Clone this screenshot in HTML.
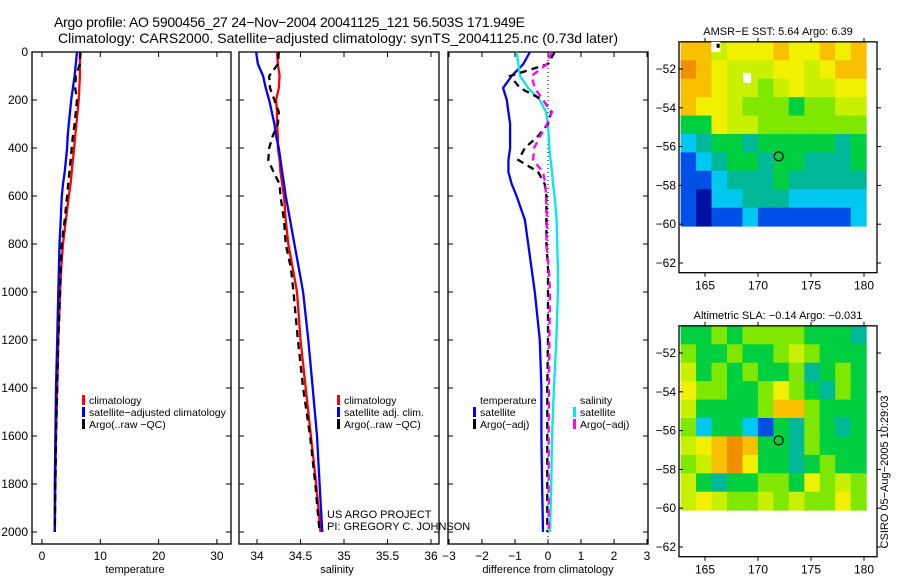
<!DOCTYPE html>
<html><head><meta charset="utf-8"><style>
html,body{margin:0;padding:0;background:#fff;}
svg{display:block;font-family:"Liberation Sans",sans-serif;}
</style></head><body>
<svg id="c" width="900" height="580" xmlns="http://www.w3.org/2000/svg">
<text x="54" y="27" font-size="14" textLength="471">Argo profile: AO 5900456_27 24−Nov−2004 20041125_121 56.503S 171.949E</text>
<text x="58" y="43" font-size="14" textLength="560">Climatology: CARS2000. Satellite−adjusted climatology: synTS_20041125.nc (0.73d later)</text>
</svg>
<script>
// ---- data ----
const depthTicks=[0,200,400,600,800,1000,1200,1400,1600,1800,2000];
const depths=[0,50,100,150,200,250,300,350,400,450,500,550,600,700,800,900,1000,1200,1400,1600,1800,2000];
const tempClim=[6.5,6.5,6.5,6.4,6.3,6.1,5.9,5.7,5.5,5.3,5.1,4.9,4.6,4.1,3.6,3.3,3.1,2.8,2.6,2.4,2.3,2.2];
const tempSat=[6.0,5.8,5.6,5.3,5.0,4.8,4.6,4.4,4.3,4.1,3.9,3.6,3.4,3.2,3.0,2.9,2.8,2.6,2.4,2.3,2.2,2.2];
const tempArgo=[6.6,6.5,5.8,5.7,6.0,5.8,5.6,5.3,5.1,4.9,4.7,4.5,4.3,3.9,3.4,3.2,3.1,2.8,2.6,2.4,2.3,2.2];
const salClim=[34.23,34.24,34.26,34.25,34.22,34.23,34.23,34.24,34.24,34.26,34.27,34.29,34.31,34.33,34.36,34.41,34.46,34.5,34.56,34.62,34.68,34.73];
const salSat=[33.99,34.01,34.07,34.10,34.14,34.17,34.2,34.22,34.25,34.27,34.29,34.31,34.33,34.38,34.43,34.48,34.53,34.59,34.64,34.69,34.72,34.75];
const salArgo=[34.25,34.24,34.14,34.15,34.2,34.25,34.24,34.18,34.14,34.13,34.19,34.26,34.27,34.31,34.33,34.39,34.42,34.47,34.53,34.61,34.67,34.72];
const dTempSat=[-0.55,-0.75,-1.1,-1.36,-1.25,-1.2,-1.15,-1.15,-1.15,-1.2,-1.2,-1.1,-0.95,-0.7,-0.6,-0.5,-0.4,-0.25,-0.2,-0.2,-0.18,-0.15];
const dSalSat=[-0.95,-0.9,-0.85,-0.6,-0.25,-0.06,0,0.02,0.04,0.08,0.12,0.15,0.2,0.26,0.28,0.3,0.3,0.25,0.18,0.12,0.1,0.06];
const dTempArgo=[0.2,0,-1.15,-0.85,-0.15,0.1,0,-0.3,-0.7,-0.9,-0.3,-0.1,-0.05,-0.05,-0.05,0,0,0,-0.02,-0.02,-0.02,-0.02];
const dSalArgo=[0.1,-0.03,-0.5,-0.4,-0.15,0.12,-0.03,-0.24,-0.42,-0.45,-0.15,-0.08,-0.06,-0.03,-0.05,0.02,0.06,0.04,0.03,0.02,0.02,0.02];
const tempTicks=[0,10,20,30];
const salTicks=[34,34.5,35,35.5,36];
const salTickLabels=["34","34.5","35","35.5","36"];
const diffTicks=[-3,-2,-1,0,1,2,3];
const lonTicks=[165,170,175,180];
const latTicks=[-52,-54,-56,-58,-60,-62];
const sstGrid=[
[8,8,6,7,7,7,8,7,7,8,7,8],
[9,8,7,6,6,6,7,7,6,7,8,8],
[8,8,7,6,6,5,6,7,6,6,7,7],
[8,7,7,6,5,5,5,4,5,5,6,6],
[4,4,7,6,6,5,5,5,5,5,5,5],
[2,3,4,4,3,4,4,4,4,4,3,4],
[1,2,3,4,4,3,4,4,3,3,3,4],
[1,1,2,3,3,3,4,3,3,3,3,3],
[1,0,2,2,3,3,3,2,2,2,2,2],
[1,0,1,1,2,1,1,1,1,1,1,2]];
const slaGrid=[
[4,4,5,4,5,5,5,5,4,4,4,3],
[5,4,4,5,4,4,5,6,5,4,4,4],
[6,4,5,4,5,4,4,5,3,4,5,4],
[7,5,5,4,4,5,7,5,4,3,5,4],
[6,4,4,4,4,5,8,8,5,4,4,4],
[5,2,4,4,2,1,4,3,5,4,3,4],
[6,7,8,9,8,4,4,3,5,4,4,4],
[5,6,8,9,7,4,4,3,4,5,4,4],
[6,4,3,4,4,5,5,4,7,5,6,5],
[6,7,6,5,5,6,5,6,5,5,7,5]];
const argoLon=171.949, argoLat=-56.503;
// ---- helpers ----
const NS="http://www.w3.org/2000/svg", svg=document.getElementById('c');
function mk(tag,at,parent){const e=document.createElementNS(NS,tag);for(const k in at)e.setAttribute(k,at[k]);(parent||svg).appendChild(e);return e;}
const dy=d=>52+0.24*d;
const tx=v=>42+5.83*v, sx=v=>257+87*(v-34), dx=v=>548+33*v;
const TOP=52,BOT=544;
function panel(x0,x1,name,xt,xf,labels,title,tcx){
  const g=mk('g',{});
  
  
  const r=mk('rect',{x:x0,y:TOP,width:x1-x0,height:BOT-TOP,fill:'none',stroke:'#000','stroke-width':1.3},g);
  
  
  depthTicks.forEach(d=>{mk('line',{x1:x0,x2:x0+5,y1:dy(d),y2:dy(d),stroke:'#000'},g);mk('line',{x1:x1,x2:x1-5,y1:dy(d),y2:dy(d),stroke:'#000'},g);});
  xt.forEach((v,i)=>{const x=xf(v);mk('line',{x1:x,x2:x,y1:TOP,y2:TOP+5,stroke:'#000'},g);mk('line',{x1:x,x2:x,y1:BOT,y2:BOT-5,stroke:'#000'},g);
    const t=mk('text',{x:x,y:560,'font-size':12,'text-anchor':'middle'},g);t.textContent=labels[i];
    
    });
  const tt=mk('text',{x:tcx,y:573,'font-size':11,'text-anchor':'middle'},g);tt.textContent=title;
  
  
  return g;
}
function line(vals,xf,color,dash,name,w){
  const p=vals.map((v,i)=>xf(v).toFixed(1)+','+dy(depths[i]).toFixed(1)).join(' ');
  const a={points:p,fill:'none',stroke:color,'stroke-width':w||2.3};
  if(dash)a['stroke-dasharray']=dash;
  const e=mk('polyline',a);
  
  
}
depthTicks.forEach(d=>{const t=mk('text',{x:28,y:dy(d)+4,'font-size':12,'text-anchor':'end'});t.textContent=d;
  
  });
panel(32,231,'temperature-panel',tempTicks,tx,tempTicks.map(String),'temperature',135);
panel(239,439,'salinity-panel',salTicks,sx,salTickLabels,'salinity',337);
panel(448,648,'difference-panel',diffTicks,dx,diffTicks.map(v=>v<0?'−'+(-v):String(v)),'difference from climatology',548);
const zl=mk('line',{x1:dx(0),x2:dx(0),y1:TOP,y2:BOT,stroke:'#000','stroke-dasharray':'1,3'});


line(tempClim,tx,'#ff0000',null,'temp-climatology-line');
line(tempSat,tx,'#0000ff',null,'temp-satellite-line');
line(tempArgo,tx,'#000',"7,5",'temp-argo-line');
line(salClim,sx,'#ff0000',null,'sal-climatology-line');
line(salSat,sx,'#0000ff',null,'sal-satellite-line');
line(salArgo,sx,'#000',"7,5",'sal-argo-line');
line(dTempSat,dx,'#0000ff',null,'diff-temp-satellite-line');
line(dSalSat,dx,'#00e8e8',null,'diff-sal-satellite-line');
line(dTempArgo,dx,'#000',"7,5",'diff-temp-argo-line');
line(dSalArgo,dx,'#ff00ff',"7,5",'diff-sal-argo-line');
function legend(x,y,items,name){
  const g=mk('g',{});
  
  
  items.forEach((it,i)=>{const yy=y+i*12;
    if(it[0])mk('rect',{x:x,y:yy-5,width:3,height:10,fill:it[0]},g);
    const t=mk('text',{x:x+7,y:yy+4,'font-size':10.5},g);t.textContent=it[1];
    
    });
}
legend(82,400,[['#f00','climatology'],['#00f','satellite−adjusted climatology'],['#000','Argo(..raw −QC)']],'temperature-legend');
legend(337,400,[['#f00','climatology'],['#00f','satellite adj. clim.'],['#000','Argo(..raw −QC)']],'salinity-legend');
legend(473,400,[[null,'temperature'],['#00f','satellite'],['#000','Argo(−adj)']],'diff-temp-legend');
legend(573,400,[[null,'salinity'],['#00e8e8','satellite'],['#f0f','Argo(−adj)']],'diff-sal-legend');
[['US ARGO PROJECT',518],['PI: GREGORY C. JOHNSON',530]].forEach(a=>{const t=mk('text',{x:327,y:a[1],'font-size':11});t.textContent=a[0];
  
  });
// ---- maps ----
const palette=['#0010a0','#0050e8','#00c8f0','#00b898','#00d040','#80e800','#c8f000','#f0f000','#f8c000','#f09000'];
const lonX=v=>705+(v-165)*10.6;
function map(top,grid,title,name){
  const latY=v=>top+(-52-v)*19.4;
  const g=mk('g',{});
  
  
  const lon0=162.7,lon1=180.2,lat0=-50.6,lat1=-60.1;
  const cw=(lon1-lon0)/grid[0].length, ch=(lat0-lat1)/grid.length;
  grid.forEach((row,r)=>row.forEach((v,c)=>{
    const x=lonX(lon0+c*cw), y=latY(lat0-r*ch);
    const cell=mk('rect',{x:x.toFixed(1),y:y.toFixed(1),width:(lonX(lon0+(c+1)*cw)-x+0.5).toFixed(1),height:(latY(lat0-(r+1)*ch)-y+0.5).toFixed(1),fill:palette[v]},g);
    
    
  }));
  const fx0=679,fx1=877,fy0=latY(-50.6),fy1=latY(-62.5);
  const fr=mk('rect',{x:fx0,y:fy0,width:fx1-fx0,height:fy1-fy0,fill:'none',stroke:'#000','stroke-width':1.3},g);
  
  
  latTicks.forEach(v=>{const y=latY(v);mk('line',{x1:fx0,x2:fx0+4,y1:y,y2:y,stroke:'#000'},g);mk('line',{x1:fx1,x2:fx1+4,y1:y,y2:y,stroke:'#000'},g);
    const t=mk('text',{x:676,y:y+4,'font-size':12,'text-anchor':'end'},g);t.textContent='−'+(-v);
    
    });
  lonTicks.forEach(v=>{const x=lonX(v);mk('line',{x1:x,x2:x,y1:fy0,y2:fy0-4,stroke:'#000'},g);mk('line',{x1:x,x2:x,y1:fy1,y2:fy1+4,stroke:'#000'},g);
    const t=mk('text',{x:x,y:fy1+17,'font-size':12,'text-anchor':'middle'},g);t.textContent=v;
    
    });
  const tt=mk('text',{x:778,y:fy0-7,'font-size':11,'text-anchor':'middle'},g);tt.textContent=title;
  
  
  const m=mk('circle',{cx:lonX(argoLon),cy:latY(argoLat),r:4.5,fill:'none',stroke:'#000','stroke-width':1.2},g);
  
  
  return latY;
}
const ly1=map(69,sstGrid,'AMSR−E SST: 5.64 Argo: 6.39','sst-map');
mk('rect',{x:lonX(165.6),y:ly1(-50.6),width:9,height:10,fill:'#fff'});
mk('rect',{x:lonX(168.6),y:ly1(-52.2),width:8,height:10,fill:'#fff'});
mk('rect',{x:lonX(166.1),y:ly1(-50.7),width:3,height:4,fill:'#000'});
map(353,slaGrid,'Altimetric SLA: −0.14 Argo: −0.031','sla-map');
const st=mk('text',{x:0,y:0,'font-size':11,'text-anchor':'middle',transform:'translate(888,472) rotate(-90)'});
st.textContent='CSIRO 05−Aug−2005 10:29:03';


</script>
</body></html>
